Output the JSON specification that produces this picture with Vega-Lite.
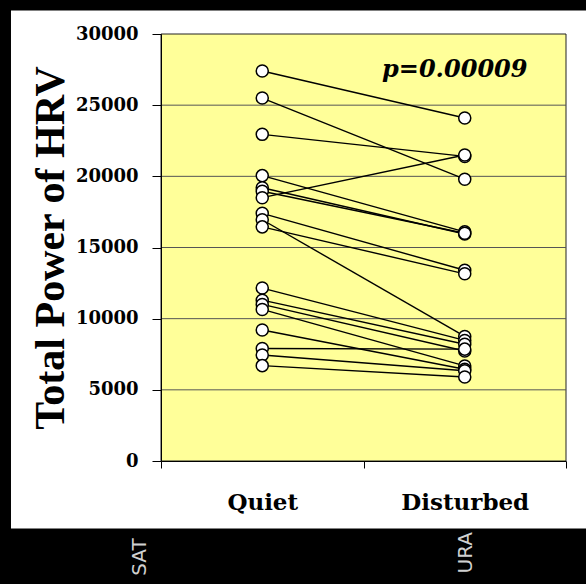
{
  "$schema": "https://vega.github.io/schema/vega-lite/v6.json",
  "width": 405,
  "height": 427,
  "autosize": {"type": "none"},
  "padding": {"left": 161, "top": 34, "right": 20, "bottom": 123},
  "background": "#000000",
  "config": {
    "view": {"stroke": null},
    "axis": {"grid": false, "domainColor": "#000000", "tickColor": "#000000", "labelColor": "#000000", "titleColor": "#000000"},
    "axisY": {
      "tickSize": 9, "labelFont": "DejaVu Serif", "labelFontWeight": "bold", "labelFontSize": 18, "labelPadding": 14,
      "titleFont": "Liberation Serif", "titleFontWeight": "bold", "titleFontSize": 42, "titleX": -98, "titleY": 213.5,
      "titleAngle": 270, "titleAlign": "center", "titleBaseline": "alphabetic"
    },
    "axisX": {
      "tickSize": 7, "tickBand": "extent", "labelFont": "DejaVu Serif", "labelFontWeight": "bold", "labelFontSize": 23,
      "labelPadding": 23, "labelAngle": 0
    }
  },
  "datasets": {
    "hrv": [
      {"subject": 1, "condition": "Quiet", "power": 27400}, {"subject": 1, "condition": "Disturbed", "power": 24100},
      {"subject": 2, "condition": "Quiet", "power": 25500}, {"subject": 2, "condition": "Disturbed", "power": 19800},
      {"subject": 3, "condition": "Quiet", "power": 22950}, {"subject": 3, "condition": "Disturbed", "power": 21400},
      {"subject": 4, "condition": "Quiet", "power": 20050}, {"subject": 4, "condition": "Disturbed", "power": 16100},
      {"subject": 5, "condition": "Quiet", "power": 19200}, {"subject": 5, "condition": "Disturbed", "power": 15950},
      {"subject": 6, "condition": "Quiet", "power": 18950}, {"subject": 6, "condition": "Disturbed", "power": 16000},
      {"subject": 7, "condition": "Quiet", "power": 18500}, {"subject": 7, "condition": "Disturbed", "power": 21500},
      {"subject": 8, "condition": "Quiet", "power": 17400}, {"subject": 8, "condition": "Disturbed", "power": 13400},
      {"subject": 9, "condition": "Quiet", "power": 16950}, {"subject": 9, "condition": "Disturbed", "power": 8750},
      {"subject": 10, "condition": "Quiet", "power": 16450}, {"subject": 10, "condition": "Disturbed", "power": 13150},
      {"subject": 11, "condition": "Quiet", "power": 12150}, {"subject": 11, "condition": "Disturbed", "power": 8470},
      {"subject": 12, "condition": "Quiet", "power": 11300}, {"subject": 12, "condition": "Disturbed", "power": 8200},
      {"subject": 13, "condition": "Quiet", "power": 11000}, {"subject": 13, "condition": "Disturbed", "power": 7730},
      {"subject": 14, "condition": "Quiet", "power": 10650}, {"subject": 14, "condition": "Disturbed", "power": 6680},
      {"subject": 15, "condition": "Quiet", "power": 9200}, {"subject": 15, "condition": "Disturbed", "power": 6450},
      {"subject": 16, "condition": "Quiet", "power": 7900}, {"subject": 16, "condition": "Disturbed", "power": 7860},
      {"subject": 17, "condition": "Quiet", "power": 7450}, {"subject": 17, "condition": "Disturbed", "power": 6340},
      {"subject": 18, "condition": "Quiet", "power": 6700}, {"subject": 18, "condition": "Disturbed", "power": 5900}
    ],
    "grid": [{"g": 5000}, {"g": 10000}, {"g": 15000}, {"g": 20000}, {"g": 25000}]
  },
  "layer": [
    {
      "data": {"values": [{}]},
      "layer": [
        {
          "mark": {"type": "text", "text": "SAT", "angle": 270, "font": "DejaVu Sans", "fontSize": 20, "color": "#d0d0d0", "align": "center", "baseline": "middle"},
          "encoding": {
            "x": {"datum": -0.052, "type": "quantitative", "scale": {"domain": [0, 1], "nice": false, "zero": false}, "axis": null},
            "y": {"datum": -6745, "type": "quantitative", "scale": {"domain": [0, 30000], "nice": false}}
          }
        },
        {
          "mark": {"type": "text", "text": "URA", "angle": 270, "font": "DejaVu Sans", "fontSize": 20, "color": "#d0d0d0", "align": "center", "baseline": "middle"},
          "encoding": {
            "x": {"datum": 0.752, "type": "quantitative", "axis": null},
            "y": {"datum": -6450, "type": "quantitative"}
          }
        },
        {
          "mark": {"type": "rect", "fill": "#ffffff"},
          "encoding": {
            "x": {"datum": -0.3704, "type": "quantitative", "axis": null},
            "x2": {"datum": 1.06},
            "y": {"datum": 31652, "type": "quantitative"},
            "y2": {"datum": -4743}
          }
        },
        {
          "mark": {"type": "rect", "fill": "#ffff99", "stroke": "#222222", "strokeWidth": 1},
          "encoding": {
            "x": {"datum": 0, "type": "quantitative", "axis": null},
            "x2": {"datum": 1},
            "y": {"datum": 30000, "type": "quantitative"},
            "y2": {"datum": 0}
          }
        }
      ]
    },
    {
      "data": {"name": "grid"},
      "mark": {"type": "rule", "color": "#555555", "strokeWidth": 1},
      "encoding": {
        "y": {"field": "g", "type": "quantitative", "scale": {"domain": [0, 30000], "nice": false}}
      }
    },
    {
      "data": {"name": "hrv"},
      "layer": [
        {
          "mark": {"type": "line", "color": "#000000", "strokeWidth": 1.4},
          "encoding": {
            "x": {"field": "condition", "type": "nominal", "sort": ["Quiet", "Disturbed"], "title": null,
                  "scale": {"type": "band", "domain": ["Quiet", "Disturbed"], "paddingInner": 0, "paddingOuter": 0},
                  "axis": {"zindex": 1}},
            "y": {"field": "power", "type": "quantitative", "title": "Total Power of HRV",
                  "scale": {"domain": [0, 30000], "nice": false},
                  "axis": {"values": [0, 5000, 10000, 15000, 20000, 25000, 30000], "format": "d", "zindex": 1}},
            "detail": {"field": "subject", "type": "nominal"}
          }
        },
        {
          "mark": {"type": "circle", "fill": "#ffffff", "stroke": "#000000", "strokeWidth": 1.5, "size": 145, "opacity": 1},
          "encoding": {
            "x": {"field": "condition", "type": "nominal", "sort": ["Quiet", "Disturbed"]},
            "y": {"field": "power", "type": "quantitative"}
          }
        },
        {
          "data": {"values": [{}]},
          "mark": {"type": "text", "text": "p=0.00009", "font": "DejaVu Serif", "fontStyle": "italic", "fontWeight": "bold", "fontSize": 24, "align": "center", "baseline": "alphabetic", "dx": -10, "color": "#000000"},
          "encoding": {
            "x": {"datum": "Disturbed", "type": "nominal"},
            "y": {"datum": 27000, "type": "quantitative"}
          }
        }
      ]
    }
  ],
  "resolve": {"scale": {"x": "independent"}, "axis": {"x": "independent"}}
}
